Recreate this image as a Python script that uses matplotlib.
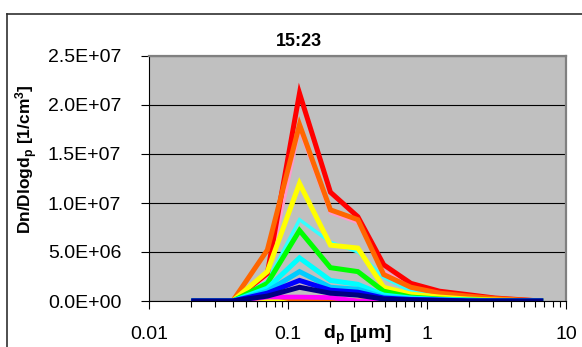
import matplotlib
matplotlib.use("Agg")
import matplotlib.pyplot as plt
from matplotlib.lines import Line2D
from matplotlib.ticker import FixedLocator, FuncFormatter, LogLocator, NullFormatter

plt.rcParams['font.family'] = ['Liberation Sans', 'DejaVu Sans']
plt.rcParams['mathtext.fontset'] = 'custom'
plt.rcParams['mathtext.rm'] = 'Liberation Sans'
plt.rcParams['mathtext.bf'] = 'Liberation Sans:bold'
plt.rcParams['mathtext.default'] = 'bf'

# particle diameters (um)
dp = [0.021, 0.040, 0.071, 0.121, 0.202, 0.318, 0.488, 0.766, 1.23, 1.96, 3.09, 6.58]

# Dn/Dlogdp in 1e6 / cm3, one list per time step
yellow_s = [0, 0, 0.1, 0.1, 0.1, 0, 0, 0, 0, 0, 0, 0]
orange_s = [0, 0, 0.7, 0, 0, 0, 0, 0, 0, 0, 0, 0]
magenta = [0, 0, 0.4, 0.4, 0.35, 0, 0, 0, 0, 0, 0, 0]
pink = [0, 0, 2.5, 17.5, 9.0, 8.0, 3.0, 1.5, 0.8, 0.5, 0.2, 0]
lightcyan = [0, 0, 2.0, 8.3, 6.0, 5.0, 2.4, 1.0, 0.5, 0.3, 0.1, 0]
red = [0, 0, 2.8, 21.2, 11.1, 8.6, 3.7, 1.8, 1.0, 0.65, 0.3, 0]
orange = [0, 0, 5.2, 18.0, 9.3, 8.3, 2.7, 1.4, 0.8, 0.5, 0.25, 0]
yellow = [0, 0, 3.0, 12.0, 5.7, 5.4, 1.4, 0.7, 0.4, 0.2, 0.1, 0]
green = [0, 0, 1.8, 7.2, 3.4, 3.0, 1.0, 0.4, 0.2, 0.1, 0.05, 0]
aqua = [0, 0, 1.3, 4.4, 2.1, 1.7, 0.6, 0.3, 0.15, 0.1, 0, 0]
skyblue = [0, 0, 1.0, 3.0, 1.4, 1.2, 0.4, 0.2, 0.1, 0.05, 0, 0]
lavender = [0, 0, 0.6, 1.6, 0.9, 0.7, 0.25, 0.1, 0.05, 0, 0, 0]
blue = [0, 0, 0.8, 2.1, 1.1, 0.9, 0.3, 0.15, 0.1, 0, 0, 0]
navy = [0, 0, 0.5, 1.4, 0.8, 0.6, 0.2, 0.1, 0.05, 0, 0, 0]

series = [
    (yellow_s, '#FFFF00', 3.4),
    (orange_s, '#FF6600', 3.4),
    (magenta, '#FF00FF', 3.4),
    (pink, '#FF99CC', 2.4),
    (lightcyan, '#33FFFF', 2.4),
    (red, '#FF0000', 3.6),
    (orange, '#FF6600', 3.6),
    (yellow, '#FFFF00', 3.6),
    (green, '#00FF00', 3.6),
    (aqua, '#00FFFF', 3.6),
    (skyblue, '#00CCFF', 3.6),
    (lavender, '#E8A0D8', 1.5),
    (blue, '#0000FF', 3.6),
    (navy, '#000080', 3.6),
]

fig = plt.figure(figsize=(5.82, 3.47), dpi=100)
ax = fig.add_axes([149 / 582, 1 - 301 / 347, 417 / 582, 245 / 347])
ax.set_facecolor('#C0C0C0')

for vals, col, lw in series:
    ax.plot(dp, [v * 1e6 for v in vals], color=col, lw=lw, solid_joinstyle='miter')

ax.set_xscale('log')
ax.set_xlim(0.01, 10)
ax.set_ylim(0, 2.5e7)
ax.xaxis.set_major_locator(FixedLocator([0.01, 0.1, 1, 10]))
ax.xaxis.set_major_formatter(FuncFormatter(lambda v, p: '%g' % v))
ax.xaxis.set_minor_locator(LogLocator(base=10, subs=range(2, 10)))
ax.xaxis.set_minor_formatter(NullFormatter())
ax.set_yticks([0, 5e6, 1e7, 1.5e7, 2e7, 2.5e7])
ax.yaxis.set_major_formatter(FuncFormatter(lambda v, p: '%.1E' % v))
ax.grid(axis='y', color='black', lw=0.8)
ax.set_axisbelow(True)

ax.tick_params(axis='both', which='major', length=6, width=0.8, labelsize=14, color='black')
ax.tick_params(axis='x', which='minor', length=4, width=0.8)
ax.tick_params(axis='x', which='major', pad=12)
ax.tick_params(axis='y', which='major', pad=14)

for s in ['top', 'right']:
    ax.spines[s].set_color('#808080')
    ax.spines[s].set_linewidth(1.6)
for s in ['left', 'bottom']:
    ax.spines[s].set_color('black')
    ax.spines[s].set_linewidth(0.8)

ax.set_xlabel('d$_p$ [µm]', fontsize=14, fontweight='bold')
ax.xaxis.set_label_coords(0.5, -0.095)
ax.set_ylabel('Dn/Dlogd$_p$ [1/cm$^3$]', fontsize=12.5, fontweight='bold')
ax.yaxis.set_label_coords(-0.262, 0.58)
ax.set_title('15:23', x=0.36, y=1.04, pad=0, fontsize=13, fontweight='bold')

# outer chart frame
fig.add_artist(Line2D([7 / 582, 1], [1 - 14 / 347, 1 - 14 / 347], color='#303030', lw=1.2))
fig.add_artist(Line2D([7 / 582, 7 / 582], [0, 1 - 14 / 347], color='#303030', lw=1.2))

fig.savefig('out.png', dpi=100)
